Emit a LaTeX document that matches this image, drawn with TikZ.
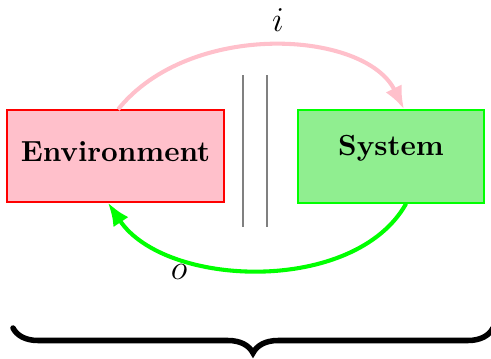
\documentclass[tikz,border=0pt]{standalone}
\usetikzlibrary{arrows.meta,decorations.pathreplacing}
\definecolor{blush}{HTML}{FFC0CB}
\definecolor{mint}{HTML}{90EE90}
\definecolor{lime}{HTML}{00FF00}

\begin{document}
\begin{tikzpicture}[x=0.344pt,y=-0.344pt,
    block/.style={draw,font=\bfseries,inner sep=0pt,text height=6.86pt},
    flow/.style={-{Latex[length=8pt,width=6.2pt]},line width=1.4pt}]
    \useasboundingbox (0,0) rectangle (491,358);
    \node[block,draw=red,fill=blush,minimum width=74.6pt,minimum height=31.7pt,text depth=3.4pt] (env) at (115.5,156) {Environment};
    \node[block,draw=lime,fill=mint,minimum width=64pt,minimum height=32pt,text depth=7.6pt] (sys) at (391,156.5) {System};
    % the two bars in between
    \draw[gray,line width=0.45pt] (243,75) -- (243,227);
    \draw[gray,line width=0.45pt] (267,75) -- (267,227);
    \draw[flow,blush] ([xshift=0.9pt]env.north) .. controls (190,20) and (365,30) .. ([xshift=4.5pt]sys.north);
    \draw[flow,lime] ([xshift=5.2pt]sys.south) .. controls (355,295) and (165,288) .. ([xshift=-2.6pt]env.south);
    \node[font=\large] (ilab) at (278,20) {$i$};
    \node[font=\large] (olab) at (179,272) {$o$};
    \coordinate (bl) at (13,328);
    \coordinate (br) at (493,328);
    \draw[decorate,decoration={brace,mirror,amplitude=8.6pt},line width=1.9pt,line cap=round] (bl) -- (br);
\end{tikzpicture}
\end{document}
